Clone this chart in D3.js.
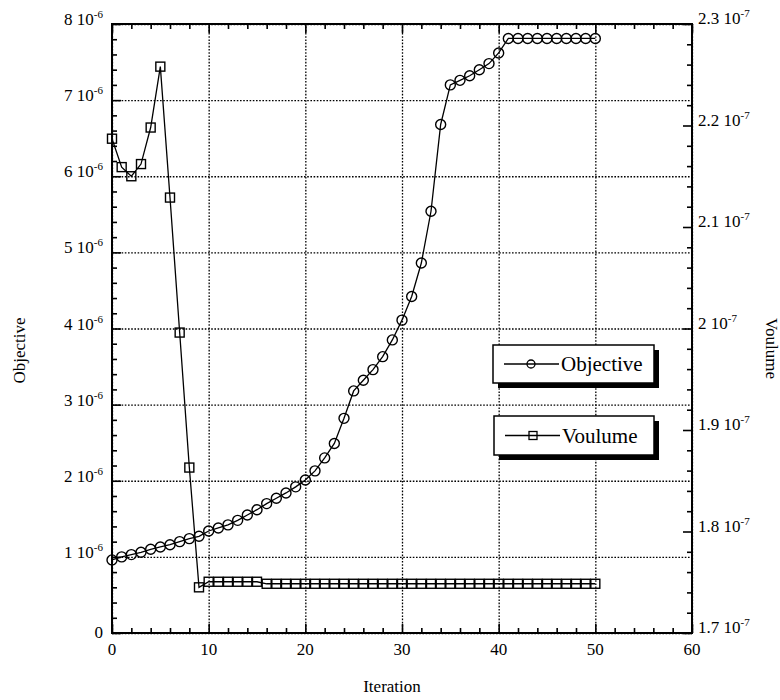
<!DOCTYPE html>
<html>
<head>
<meta charset="utf-8">
<script src="https://cdn.jsdelivr.net/npm/d3@7"></script>
<style>
  body { margin: 0; background: #fff; }
  text { font-family: "Liberation Serif", "Times New Roman", serif; fill: #000; }
</style>
</head>
<body>
<div id="chart"></div>
<script>
// iteration index (x)
let iterations = d3.range(0, 51);

// Objective, in units of 1e-6 (left axis)
let objective = [0.96, 1.00, 1.03, 1.06, 1.10, 1.13, 1.16, 1.20, 1.24, 1.27,
                 1.34, 1.38, 1.42, 1.48, 1.55, 1.62, 1.70, 1.77, 1.84, 1.92,
                 2.01, 2.13, 2.30, 2.49, 2.82, 3.18, 3.32, 3.46, 3.63, 3.85,
                 4.11, 4.42, 4.86, 5.54, 6.68, 7.20, 7.26, 7.32, 7.40, 7.48,
                 7.62, 7.81, 7.81, 7.81, 7.81, 7.81, 7.81, 7.81, 7.81, 7.81, 7.81];

// Voulume, in units of 1e-7 (right axis)
let volume = [2.187, 2.159, 2.150, 2.162, 2.198, 2.258, 2.129, 1.996, 1.863, 1.745,
              1.7505, 1.7505, 1.7505, 1.7505, 1.7505, 1.7505, 1.7485, 1.7485, 1.7485, 1.7485,
              1.7485, 1.7485, 1.7485, 1.7485, 1.7485, 1.7485, 1.7485, 1.7485, 1.7485, 1.7485,
              1.7485, 1.7485, 1.7485, 1.7485, 1.7485, 1.7485, 1.7485, 1.7485, 1.7485, 1.7485,
              1.7485, 1.7485, 1.7485, 1.7485, 1.7485, 1.7485, 1.7485, 1.7485, 1.7485, 1.7485, 1.7485];

let x_ticks = [0, 10, 20, 30, 40, 50, 60];
let left_ticks = [0, 1, 2, 3, 4, 5, 6, 7, 8];
let right_ticks = [1.7, 1.8, 1.9, 2.0, 2.1, 2.2, 2.3];
let right_labels = ["1.7", "1.8", "1.9", "2", "2.1", "2.2", "2.3"];

let legend_names = ["Objective", "Voulume"];

let width = 780, height = 700;
let m = {left: 112, top: 24, right: 88, bottom: 67};
let pw = width - m.left - m.right;   // 580
let ph = height - m.top - m.bottom;  // 609

let svg = d3.select("#chart").append("svg")
  .attr("width", width)
  .attr("height", height);

let x = d3.scaleLinear().domain([0, 60]).range([m.left, m.left + pw]);
let yL = d3.scaleLinear().domain([0, 8]).range([m.top + ph, m.top]);
let yR = d3.scaleLinear().domain([1.7, 2.3]).range([m.top + ph, m.top]);

// dotted grid
let grid = svg.append("g").attr("class", "grid");
grid.append("g")
  .attr("transform", "translate(0," + (m.top + ph) + ")")
  .call(d3.axisBottom(x).tickValues(x_ticks).tickSize(-ph).tickFormat(""));
grid.append("g")
  .attr("transform", "translate(" + m.left + ",0)")
  .call(d3.axisLeft(yL).tickValues(left_ticks).tickSize(-pw).tickFormat(""));
grid.selectAll(".domain").remove();
grid.selectAll("line")
  .attr("stroke", "#000")
  .attr("stroke-width", 1.3)
  .attr("stroke-dasharray", "1.6,1.6");

// ticks (inward) on all four sides
function tickAxis(axis, tx, ty) {
  let g = svg.append("g").attr("transform", "translate(" + tx + "," + ty + ")").call(axis);
  g.select(".domain").remove();
  g.selectAll("line").attr("stroke", "#000").attr("stroke-width", 1.6);
  return g;
}
let xMinor = d3.range(0, 61, 2).filter(v => v % 10 !== 0);
let lMinor = d3.range(0, 8.01, 0.2).filter(v => Math.abs(v - Math.round(v)) > 0.01);
let rMinor = d3.range(1.7, 2.301, 0.02).filter(v => Math.abs(v * 10 - Math.round(v * 10)) > 0.01);

tickAxis(d3.axisBottom(x).tickValues(x_ticks).tickSize(-9).tickFormat(""), 0, m.top + ph);
tickAxis(d3.axisBottom(x).tickValues(xMinor).tickSize(-5).tickFormat(""), 0, m.top + ph);
tickAxis(d3.axisTop(x).tickValues(x_ticks).tickSize(-9).tickFormat(""), 0, m.top);
tickAxis(d3.axisTop(x).tickValues(xMinor).tickSize(-5).tickFormat(""), 0, m.top);
tickAxis(d3.axisLeft(yL).tickValues(left_ticks).tickSize(-9).tickFormat(""), m.left, 0);
tickAxis(d3.axisLeft(yL).tickValues(lMinor).tickSize(-5).tickFormat(""), m.left, 0);
tickAxis(d3.axisRight(yR).tickValues(right_ticks).tickSize(-9).tickFormat(""), m.left + pw, 0);
tickAxis(d3.axisRight(yR).tickValues(rMinor).tickSize(-5).tickFormat(""), m.left + pw, 0);

// frame
svg.append("rect")
  .attr("x", m.left).attr("y", m.top)
  .attr("width", pw).attr("height", ph)
  .attr("fill", "none").attr("stroke", "#000").attr("stroke-width", 2);

// tick labels
svg.selectAll(".xl").data(x_ticks).enter().append("text")
  .attr("x", d => x(d)).attr("y", m.top + ph + 22)
  .attr("text-anchor", "middle").attr("font-size", 17)
  .text(d => d);

let ll = svg.selectAll(".ll").data(left_ticks).enter().append("text")
  .attr("x", m.left - 9).attr("y", d => yL(d) + (d === 0 ? 5 : 1))
  .attr("text-anchor", "end").attr("font-size", 17);
ll.append("tspan").text(d => d === 0 ? "0" : d + " 10");
ll.filter(d => d !== 0).append("tspan")
  .attr("font-size", 11).attr("dy", -7).text("-6");

let rl = svg.selectAll(".rl").data(right_ticks).enter().append("text")
  .attr("x", m.left + pw + 6).attr("y", d => yR(d))
  .attr("font-size", 17);
rl.append("tspan").text((d, i) => right_labels[i] + " 10");
rl.append("tspan").attr("font-size", 11).attr("dy", -7).text("-7");

// axis titles
svg.append("text")
  .attr("x", x(30) - 10).attr("y", 692)
  .attr("text-anchor", "middle").attr("font-size", 17)
  .text("Iteration");
svg.append("text")
  .attr("transform", "translate(25," + (m.top + ph / 2 + 22) + ") rotate(-90)")
  .attr("text-anchor", "middle").attr("font-size", 17)
  .text("Objective");
svg.append("text")
  .attr("transform", "translate(766," + (m.top + ph / 2 + 20) + ") rotate(90)")
  .attr("text-anchor", "middle").attr("font-size", 17)
  .text("Voulume");

// series
let lineObj = d3.line().x((d, i) => x(iterations[i])).y(d => yL(d));
let lineVol = d3.line().x((d, i) => x(iterations[i])).y(d => yR(d));

svg.append("path").datum(objective)
  .attr("d", lineObj).attr("fill", "none")
  .attr("stroke", "#000").attr("stroke-width", 1.3);
svg.selectAll(".cobj").data(objective).enter().append("circle")
  .attr("cx", (d, i) => x(iterations[i])).attr("cy", d => yL(d))
  .attr("r", 5).attr("fill", "none")
  .attr("stroke", "#000").attr("stroke-width", 1.4);

svg.append("path").datum(volume)
  .attr("d", lineVol).attr("fill", "none")
  .attr("stroke", "#000").attr("stroke-width", 1.3);
svg.selectAll(".svol").data(volume).enter().append("rect")
  .attr("x", (d, i) => x(iterations[i]) - 4.5).attr("y", d => yR(d) - 4.5)
  .attr("width", 9).attr("height", 9).attr("fill", "none")
  .attr("stroke", "#000").attr("stroke-width", 1.4);

// legend boxes
let legend_boxes = [{x: 493, y: 345, w: 161, h: 38}, {x: 494, y: 416, w: 160, h: 39}];
legend_names.forEach(function(name, i) {
  let b = legend_boxes[i];
  let g = svg.append("g");
  g.append("rect").attr("x", b.x + 5).attr("y", b.y + 5)
    .attr("width", b.w).attr("height", b.h).attr("fill", "#000");
  g.append("rect").attr("x", b.x).attr("y", b.y)
    .attr("width", b.w).attr("height", b.h)
    .attr("fill", "#fff").attr("stroke", "#000").attr("stroke-width", 1.5);
  let cy = b.y + b.h / 2;
  g.append("line").attr("x1", b.x + 11).attr("x2", b.x + 66)
    .attr("y1", cy).attr("y2", cy).attr("stroke", "#000").attr("stroke-width", 1.3);
  if (i === 0) {
    g.append("circle").attr("cx", b.x + 38).attr("cy", cy).attr("r", 4)
      .attr("fill", "none").attr("stroke", "#000").attr("stroke-width", 1.3);
  } else {
    g.append("rect").attr("x", b.x + 35).attr("y", cy - 4).attr("width", 8).attr("height", 8)
      .attr("fill", "none").attr("stroke", "#000").attr("stroke-width", 1.3);
  }
  g.append("text").attr("x", b.x + 68).attr("y", cy + 7)
    .attr("font-size", 21).text(name);
});
</script>
</body>
</html>
